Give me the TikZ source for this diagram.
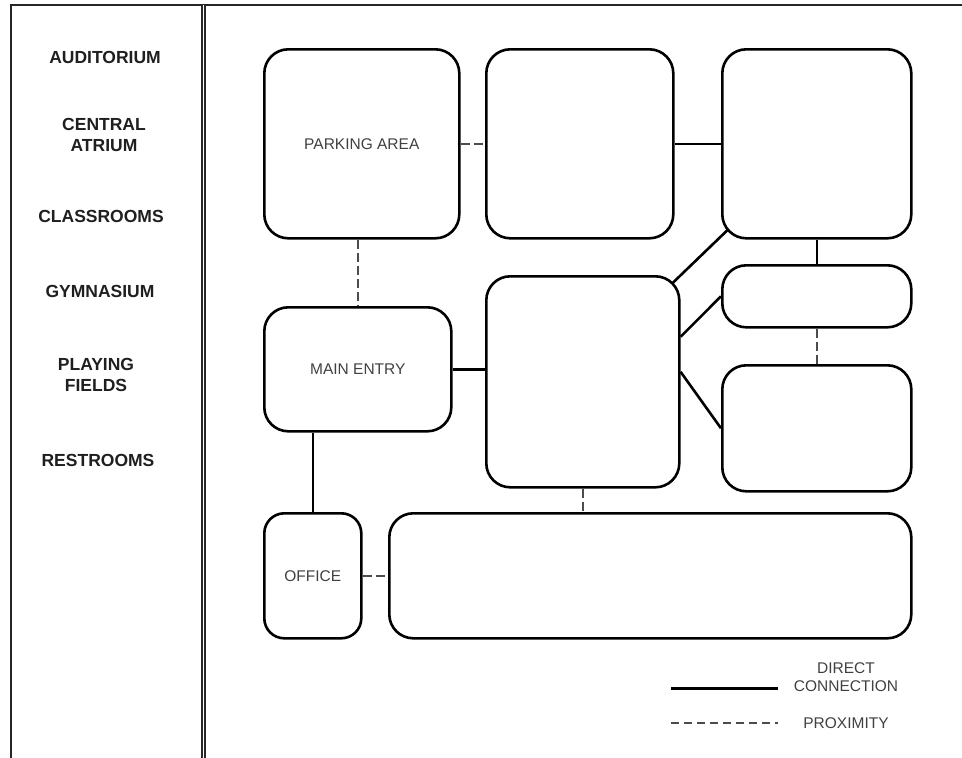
\documentclass[tikz,border=0pt]{standalone}
\usepackage{fontspec}
\setmainfont{Liberation Sans}
\usetikzlibrary{positioning,calc}

\begin{document}
\begin{tikzpicture}[
  x=1pt, y=-1pt,
  room/.style={
    rectangle,
    rounded corners=24pt,
    draw=black,
    line width=2.6pt,
    anchor=north west,
    inner sep=0pt,
    font=\fontsize{15.5}{18}\selectfont,
    text=black!75
  },
  direct/.style={line width=2.6pt, black},
  near/.style={line width=1.8pt, black!70, dash pattern=on 9pt off 4pt},
  space/.style={font=\bfseries\fontsize{17.5}{21}\selectfont, text=black!88, align=center},
  key/.style={font=\fontsize{15.5}{18}\selectfont, text=black!75, align=center}
]
\useasboundingbox (0,0) rectangle (962,758);

% --- frame ---
\draw[line width=1.8pt, black!85] (11,758) -- (11,5) -- (962,5);
\draw[line width=1.6pt, black!85, double, double distance=1.6pt] (203.5,5) -- (203.5,758);

% --- list of spaces ---
\node[space] (auditorium) at (105,57.5) {AUDITORIUM};
\node[space] (atrium) at (104,135) {CENTRAL\\ATRIUM};
\node[space] (classrooms) at (101,216) {CLASSROOMS};
\node[space] (gymnasium) at (100,291) {GYMNASIUM};
\node[space] (fields) at (96,375) {PLAYING\\FIELDS};
\node[space] (restrooms) at (98,460) {RESTROOMS};

% --- rooms ---
\node[room, minimum width=195pt, minimum height=189pt] (parking) at (263,48) {PARKING AREA};
\node[room, minimum width=187pt, minimum height=189pt] (upper) at (485,48) {};
\node[room, minimum width=189pt, minimum height=189pt] (corner) at (721,48) {};
\node[room, minimum width=189pt, minimum height=62pt] (strip) at (721,264) {};
\node[room, minimum width=187pt, minimum height=124pt] (entry) at (263,306) {MAIN ENTRY};
\node[room, minimum width=193pt, minimum height=211pt] (hub) at (485,275) {};
\node[room, minimum width=189pt, minimum height=126pt] (side) at (721,364) {};
\node[room, rounded corners=20pt, minimum width=97pt, minimum height=125pt] (office) at (263,512) {OFFICE};
\node[room, minimum width=522pt, minimum height=125pt] (wing) at (388,512) {};

% --- direct connections ---
\draw[direct] (upper.east) -- (corner.west);
\draw[direct] (corner.south) -- (strip.north);
\draw[direct] ($(hub.north east)+(-8,8)$) -- ($(corner.south west)+(7,-10)$);
\draw[direct] ($(hub.east)+(0,-45)$) -- (strip.west);
\draw[direct] ($(hub.east)+(0,-10)$) -- (side.west);
\draw[direct] (entry.east) -- (hub.west |- entry.east);
\draw[direct] (office.north |- entry.south) -- (office.north);

% --- proximity ---
\draw[near] (parking.east) -- (upper.west);
\draw[near] (entry.north |- parking.south) -- (entry.north);
\draw[near] (strip.south) -- (side.north);
\draw[near] (hub.south) -- (hub.south |- wing.north);
\draw[near] (office.east) -- (wing.west);

% --- legend ---
\coordinate (solidA) at (671,688);
\coordinate (solidB) at (778,688);
\coordinate (dashA) at (671,723);
\coordinate (dashB) at (778,723);
\draw[direct, line width=3pt] (solidA) -- (solidB);
\draw[near, dash pattern=on 8pt off 5pt] (dashA) -- (dashB);
\node[key] (directkey) at (846,677.5) {DIRECT\\CONNECTION};
\node[key] (nearkey) at (846,723.5) {PROXIMITY};

\end{tikzpicture}
\end{document}
